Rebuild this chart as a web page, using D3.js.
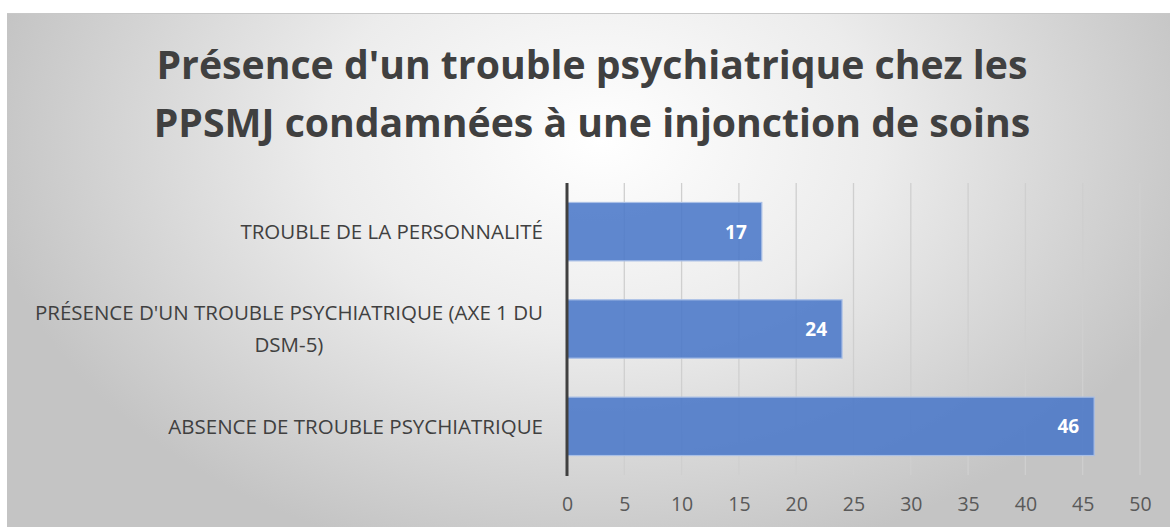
<!DOCTYPE html>
<html>
<head>
<meta charset="utf-8">
<script src="https://cdn.jsdelivr.net/npm/d3@7"></script>
<style>
  body { margin: 0; background: #fff; }
  svg { display: block; }
</style>
</head>
<body>
<div id="vis"></div>
<script>
var titleLines = ["Présence d'un trouble psychiatrique chez les", "PPSMJ condamnées à une injonction de soins"];
var categories = [
  ["TROUBLE DE LA PERSONNALITÉ"],
  ["PRÉSENCE D'UN TROUBLE PSYCHIATRIQUE (AXE 1 DU", "DSM-5)"],
  ["ABSENCE DE TROUBLE PSYCHIATRIQUE"]
];
var values = [17, 24, 46];
var ticks = [0, 5, 10, 15, 20, 25, 30, 35, 40, 45, 50];

var W = 1170, H = 527;
var svg = d3.select("#vis").append("svg").attr("width", W).attr("height", H);
var defs = svg.append("defs");

var grad = defs.append("radialGradient")
  .attr("id", "bg")
  .attr("gradientUnits", "userSpaceOnUse")
  .attr("cx", 600).attr("cy", 140).attr("r", 620)
  .attr("gradientTransform", "translate(600,140) scale(1,0.7) translate(-600,-140)");
grad.append("stop").attr("offset", "0%").attr("stop-color", "#ffffff");
grad.append("stop").attr("offset", "45%").attr("stop-color", "#ececec");
grad.append("stop").attr("offset", "100%").attr("stop-color", "#c4c4c4");

svg.append("rect").attr("x", 7).attr("y", 13).attr("width", W - 7).attr("height", H - 13)
  .attr("fill", "url(#bg)");
svg.append("line").attr("x1", 7).attr("x2", W).attr("y1", 13.5).attr("y2", 13.5)
  .attr("stroke", "#c8c8c8").attr("stroke-width", 1);

// title
svg.selectAll(".title").data(titleLines).enter()
  .append("text")
  .attr("class", "title")
  .attr("x", 592)
  .attr("y", function(d, i) { return 79 + i * 58; })
  .attr("text-anchor", "middle")
  .attr("font-family", "'Open Sans', sans-serif")
  .attr("font-weight", "bold")
  .attr("font-size", 39.2)
  .attr("fill", "#404040")
  .text(function(d) { return d; });

var x = d3.scaleLinear().domain([0, 50]).range([567, 1140]);
var y = d3.scaleBand().domain(d3.range(categories.length)).range([183, 475]).paddingInner(0.4).paddingOuter(0.2);

// gridlines
svg.selectAll(".grid").data(ticks.slice(1)).enter()
  .append("line")
  .attr("x1", function(d) { return x(d); })
  .attr("x2", function(d) { return x(d); })
  .attr("y1", 183).attr("y2", 475)
  .attr("stroke", "#cfcfcf").attr("stroke-width", 1.3);

// tick labels via axis
var axis = svg.append("g")
  .attr("transform", "translate(0,475)")
  .call(d3.axisBottom(x).tickValues(ticks).tickSize(0).tickPadding(22));
axis.select(".domain").remove();
axis.selectAll("text")
  .attr("font-family", "'Open Sans', sans-serif")
  .attr("font-size", 19.5)
  .attr("fill", "#595959");

// bars
svg.selectAll(".bar").data(values).enter()
  .append("rect")
  .attr("class", "bar")
  .attr("x", x(0))
  .attr("y", function(d, i) { return y(i); })
  .attr("width", function(d) { return x(d) - x(0); })
  .attr("height", y.bandwidth())
  .attr("fill", "#4a78c8")
  .attr("fill-opacity", 0.88)
  .attr("stroke", "#a9bfe6")
  .attr("stroke-width", 1.2);

svg.selectAll(".val").data(values).enter()
  .append("text")
  .attr("x", function(d) { return x(d) - 15; })
  .attr("y", function(d, i) { return y(i) + y.bandwidth() / 2; })
  .attr("dy", "0.36em")
  .attr("text-anchor", "end")
  .attr("font-family", "'Open Sans', sans-serif")
  .attr("font-weight", "bold")
  .attr("font-size", 19)
  .attr("fill", "#ffffff")
  .text(function(d) { return d; });

// axis line
svg.append("line")
  .attr("x1", x(0)).attr("x2", x(0))
  .attr("y1", 183).attr("y2", 476)
  .attr("stroke", "#404040").attr("stroke-width", 3);

// category labels
var labelRight = 543;
categories.forEach(function(lines, i) {
  var g = svg.append("g");
  var cy = y(i) + y.bandwidth() / 2;
  var lh = 32;
  var texts = g.selectAll("text").data(lines).enter()
    .append("text")
    .attr("y", function(d, j) { return cy + (j - (lines.length - 1) / 2) * lh; })
    .attr("dy", "0.36em")
    .attr("font-family", "'Open Sans', sans-serif")
    .attr("font-size", 20.5)
    .attr("fill", "#404040")
    .text(function(d) { return d; });
  var maxW = d3.max(texts.nodes(), function(n) { return n.getComputedTextLength(); });
  texts.attr("text-anchor", "middle").attr("x", labelRight - maxW / 2);
});
</script>
</body>
</html>
